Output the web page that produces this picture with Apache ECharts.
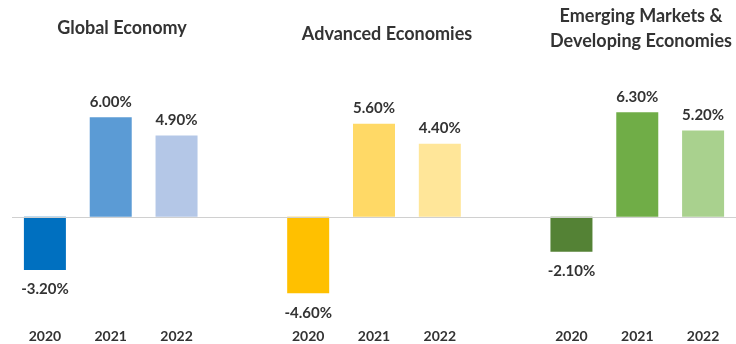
<!DOCTYPE html>
<html><head><meta charset="utf-8">
<script src="https://cdn.jsdelivr.net/npm/echarts@6/dist/echarts.min.js"></script>
<style>html,body{margin:0;padding:0;background:#fff}#c{width:736px;height:344px}</style>
</head><body><div id="c"></div>
<script>
const years = ['2020', '2021', '2022'];
const groupTitles = ['Global Economy', 'Advanced Economies', 'Emerging Markets &\nDeveloping Economies'];
const globalValues = [-3.2, 6.0, 4.9];
const advancedValues = [-4.6, 5.6, 4.4];
const emergingValues = [-2.1, 6.3, 5.2];
const globalColors = ['#0070C0', '#5B9BD5', '#B4C7E7'];
const advancedColors = ['#FFC000', '#FFD966', '#FFE699'];
const emergingColors = ['#548235', '#70AD47', '#A9D18E'];

const groups = [
  {values: globalValues, colors: globalColors},
  {values: advancedValues, colors: advancedColors},
  {values: emergingValues, colors: emergingColors}
];
const cats = [];
const data = [];
groups.forEach((g, gi) => {
  if (gi > 0) { cats.push(''); data.push('-'); }
  g.values.forEach((v, i) => {
    cats.push(years[i] + (gi ? '\u200b'.repeat(gi) : ''));
    data.push({
      value: v,
      itemStyle: {color: g.colors[i]},
      label: {position: v < 0 ? 'bottom' : 'top', distance: v < 0 ? 12 : 8}
    });
  });
});

const font = 'Lato, "Open Sans", sans-serif';
const chart = echarts.init(document.getElementById('c'), null, {renderer: 'canvas'});
chart.setOption({
  animation: false,
  title: [
    {text: groupTitles[0], left: 122, top: 16, textAlign: 'center'},
    {text: groupTitles[1], left: 387, top: 22, textAlign: 'center'},
    {text: groupTitles[2], left: 641, top: 4, textAlign: 'center'}
  ].map(t => Object.assign(t, {padding: 0, textStyle: {fontFamily: font, fontSize: 18, fontWeight: 'bold', color: '#333', lineHeight: 25}})),
  grid: {left: 12, top: 84, width: 731.5, height: 232.4, containLabel: false},
  xAxis: {
    type: 'category', data: cats,
    axisLine: {show: false, onZero: false}, axisTick: {show: false},
    axisLabel: {margin: 13, fontFamily: font, fontSize: 14, fontWeight: 'bold', color: '#333',
      formatter: v => v.replace(/\u200b/g, '')}
  },
  yAxis: {type: 'value', min: -6, max: 8, show: false, splitLine: {show: false}},
  series: [{
    type: 'bar', data: data, barWidth: 42,
    label: {show: true, fontFamily: font, fontSize: 15, fontWeight: 'bold', color: '#333',
      formatter: p => p.value.toFixed(2) + '%'},
    markLine: {silent: true, symbol: 'none', label: {show: false},
      lineStyle: {color: '#D0D0D0', width: 1, type: 'solid'}, data: [{yAxis: 0}]}
  }]
});
</script></body></html>
